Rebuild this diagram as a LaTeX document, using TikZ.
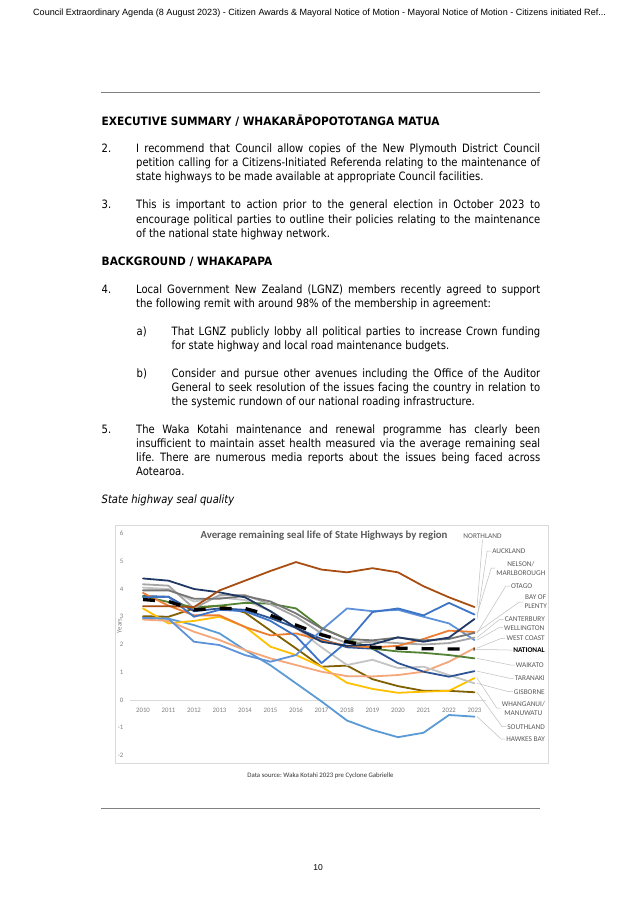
\documentclass[tikz,border=0pt]{standalone}
\usepackage{fontspec}
\setmainfont{DejaVu Sans}[FakeStretch=0.87]
\newfontfamily\headfont{DejaVu Sans}[FakeStretch=0.92]
\newfontfamily\arialfont{Liberation Sans}
\newfontfamily\calfont{Carlito}
\usetikzlibrary{calc}
\frenchspacing
\definecolor{rulegray}{HTML}{808080}
\definecolor{boxgray}{HTML}{D9D9D9}
\definecolor{labgray}{HTML}{595959}
\definecolor{tickgray}{HTML}{7F7F7F}
\definecolor{leadgray}{HTML}{BFBFBF}
\definecolor{cNorth}{RGB}{168,78,18}
\definecolor{cAuck}{HTML}{203864}
\definecolor{cNel}{HTML}{3E74C6}
\definecolor{cOtago}{HTML}{767676}
\definecolor{cBop}{HTML}{ED7D31}
\definecolor{cCant}{HTML}{A5A5A5}
\definecolor{cWell}{HTML}{5E93DA}
\definecolor{cWest}{HTML}{F4A77A}
\definecolor{cWaik}{HTML}{548235}
\definecolor{cTara}{HTML}{2F5597}
\definecolor{cGis}{HTML}{C4C4C4}
\definecolor{cWhang}{HTML}{FFC000}
\definecolor{cSouth}{HTML}{806000}
\definecolor{cHawk}{HTML}{5B9BD5}
\newcommand\jfull[1]{\makebox[404pt][s]{#1}}
\newcommand\jsub[1]{\makebox[368.5pt][s]{#1}}
\tikzset{
  body/.style={anchor=base west, inner sep=0pt, font=\frenchspacing\fontsize{11.5}{14}\selectfont},
  head/.style={anchor=base west, inner sep=0pt, font=\headfont\bfseries\fontsize{11.5}{14}\selectfont},
  ruleline/.style={draw=rulegray, line width=0.8pt},
  series/.style={line width=1.8pt, line join=round, line cap=round},
  natline/.style={line width=3.3pt, black, dash pattern=on 12pt off 14pt},
  rlabel/.style={font=\calfont\fontsize{7.3}{9}\selectfont, text=labgray, inner sep=0pt, align=center},
  leader/.style={draw=leadgray, line width=0.5pt},
  tick/.style={font=\calfont\fontsize{6.8}{8}\selectfont, text=tickgray, inner sep=0pt},
}
\begin{document}
\begin{tikzpicture}[x=1pt,y=-1pt]
\useasboundingbox[fill=white] (0,0) rectangle (637,901);

% page header
\node[anchor=base west, inner sep=0pt, font=\arialfont\fontsize{9.05}{11}\selectfont] (hdr) at (33,16)
  {Council Extraordinary Agenda (8 August 2023) - Citizen Awards \& Mayoral Notice of Motion - Mayoral Notice of Motion - Citizens initiated Ref...};
\draw[ruleline] (101,92.5) -- (540,92.5);

% executive summary
\node[head] (h1) at (101.5,126) {EXECUTIVE SUMMARY / WHAKARĀPOPOTOTANGA MATUA};
\node[body] (n2) at (101.5,153) {2.};
\node[body] (p2a) at (136,153) {\jfull{I recommend that Council allow copies of the New Plymouth District Council}};
\node[body] (p2b) at (136,167) {\jfull{petition calling for a Citizens-Initiated Referenda relating to the maintenance of}};
\node[body] (p2c) at (136,181) {state highways to be made available at appropriate Council facilities.};
\node[body] (n3) at (101.5,209) {3.};
\node[body] (p3a) at (136,209) {\jfull{This is important to action prior to the general election in October 2023 to}};
\node[body] (p3b) at (136,223) {\jfull{encourage political parties to outline their policies relating to the maintenance}};
\node[body] (p3c) at (136,237) {of the national state highway network.};

% background
\node[head] (h2) at (101.5,265) {BACKGROUND / WHAKAPAPA};
\node[body] (n4) at (101.5,293) {4.};
\node[body] (p4a) at (136,293) {\jfull{Local Government New Zealand (LGNZ) members recently agreed to support}};
\node[body] (p4b) at (136,307) {the following remit with around 98\% of the membership in agreement:};
\node[body] (na) at (136.5,335) {a)};
\node[body] (pa1) at (171.5,335) {\jsub{That LGNZ publicly lobby all political parties to increase Crown funding}};
\node[body] (pa2) at (171.5,349) {for state highway and local road maintenance budgets.};
\node[body] (nb) at (136.5,377) {b)};
\node[body] (pb1) at (171.5,377) {\jsub{Consider and pursue other avenues including the Office of the Auditor}};
\node[body] (pb2) at (171.5,391) {\jsub{General to seek resolution of the issues facing the country in relation to}};
\node[body] (pb3) at (171.5,405) {the systemic rundown of our national roading infrastructure.};
\node[body] (n5) at (101.5,433) {5.};
\node[body] (p5a) at (136,433) {\jfull{The Waka Kotahi maintenance and renewal programme has clearly been}};
\node[body] (p5b) at (136,447) {\jfull{insufficient to maintain asset health measured via the average remaining seal}};
\node[body] (p5c) at (136,461) {\jfull{life. There are numerous media reports about the issues being faced across}};
\node[body] (p5d) at (136,475) {Aotearoa.};
\node[body, font=\itshape\fontsize{11.5}{14}\selectfont] (cap) at (101.5,503) {State highway seal quality};

% chart frame
\draw[draw=boxgray, line width=0.6pt] (115,525.5) rectangle (548,763);
\node[font=\calfont\bfseries\fontsize{10.8}{12}\selectfont, text=labgray, inner sep=0pt] (title) at (324,535.5)
  {Average remaining seal life of State Highways by region};
\draw[draw=boxgray, line width=0.6pt] (130,700) -- (486,700);
\node[tick, rotate=90] (ylab) at (119.5,626) {Years};
\foreach \v/\nm in {6/ya,5/yb,4/yc,3/yd,2/ye,1/yf,0/yg,-1/yh,-2/yi}{
  \node[tick, anchor=east] (\nm) at (123.5,{700-27.75*\v}) {\v};
}
\foreach \i in {0,...,13}{
  \pgfmathtruncatemacro\yr{2010+\i}
  \node[tick] (x\i) at ({143+25.5*\i},710) {\yr};
}
\node[font=\calfont\fontsize{6.8}{8}\selectfont, text=black!80, inner sep=0pt] (src) at (320.5,775.5)
  {Data source: Waka Kotahi 2023 pre Cyclone Gabrielle};

\begin{scope}[shift={(143pt,-700pt)}, x=25.5pt, y=27.75pt]
\draw[series, cHawk] plot coordinates {(0,2.96) (1,2.93) (2,2.7) (3,2.4) (4,1.8) (5,1.25) (6,0.6) (7,-0.05) (8,-0.74) (9,-1.08) (10,-1.34) (11,-1.18) (12,-0.54) (13,-0.6)};
\draw[series, cSouth] plot coordinates {(0,3.02) (1,3.0) (2,3.3) (3,3.4) (4,3.15) (5,2.5) (6,1.86) (7,1.2) (8,1.24) (9,0.75) (10,0.5) (11,0.33) (12,0.33) (13,0.28)};
\draw[series, cWhang] plot coordinates {(0,3.3) (1,2.76) (2,2.85) (3,3.0) (4,2.64) (5,1.92) (6,1.62) (7,1.2) (8,0.62) (9,0.4) (10,0.26) (11,0.3) (12,0.33) (13,0.79)};
\draw[series, cWest] plot coordinates {(0,2.9) (1,2.85) (2,2.46) (3,2.16) (4,1.8) (5,1.5) (6,1.26) (7,1.02) (8,0.86) (9,0.85) (10,0.9) (11,1.02) (12,1.38) (13,1.87)};
\draw[series, cGis] plot coordinates {(0,4.05) (1,4.0) (2,3.55) (3,3.7) (4,3.6) (5,3.2) (6,2.6) (7,1.9) (8,1.26) (9,1.45) (10,1.15) (11,1.2) (12,0.9) (13,0.6)};
\draw[series, cTara] plot coordinates {(0,3.75) (1,3.72) (2,3.2) (3,3.3) (4,3.25) (5,2.95) (6,2.6) (7,2.2) (8,1.9) (9,1.85) (10,1.33) (11,1.02) (12,0.84) (13,1.04)};
\draw[series, cWaik] plot coordinates {(0,3.74) (1,3.53) (2,3.34) (3,3.4) (4,3.5) (5,3.47) (6,3.3) (7,2.6) (8,2.2) (9,1.85) (10,1.75) (11,1.7) (12,1.62) (13,1.5)};
\draw[series, cWell] plot coordinates {(0,2.96) (1,2.93) (2,2.1) (3,1.98) (4,1.62) (5,1.38) (6,1.62) (7,2.52) (8,3.3) (9,3.2) (10,3.25) (11,3.0) (12,2.76) (13,2.16)};
\draw[series, cCant] plot coordinates {(0,4.17) (1,4.12) (2,3.3) (3,3.78) (4,3.78) (5,3.45) (6,3.0) (7,2.4) (8,2.05) (9,2.1) (10,2.05) (11,2.0) (12,2.05) (13,2.25)};
\draw[series, cBop] plot coordinates {(0,3.86) (1,3.4) (2,3.05) (3,3.05) (4,2.63) (5,2.33) (6,2.4) (7,2.15) (8,1.95) (9,1.9) (10,1.95) (11,2.2) (12,2.5) (13,2.45)};
\draw[series, cOtago] plot coordinates {(0,3.95) (1,3.95) (2,3.65) (3,3.65) (4,3.75) (5,3.55) (6,3.12) (7,2.58) (8,2.2) (9,2.15) (10,2.25) (11,2.15) (12,2.2) (13,2.42)};
\draw[series, cNel] plot coordinates {(0,3.7) (1,3.72) (2,3.0) (3,3.25) (4,3.2) (5,2.85) (6,2.3) (7,1.33) (8,2.1) (9,3.17) (10,3.3) (11,3.05) (12,3.5) (13,3.08)};
\draw[series, cAuck] plot coordinates {(0,4.38) (1,4.3) (2,4.0) (3,3.88) (4,3.7) (5,3.2) (6,2.6) (7,2.1) (8,1.95) (9,2.0) (10,2.26) (11,2.1) (12,2.25) (13,2.92)};
\draw[series, cNorth] plot coordinates {(0,3.38) (1,3.38) (2,3.35) (3,3.95) (4,4.3) (5,4.65) (6,4.97) (7,4.7) (8,4.6) (9,4.75) (10,4.6) (11,4.1) (12,3.7) (13,3.35)};
\draw[natline] plot coordinates {(0,3.62) (1,3.55) (2,3.25) (3,3.3) (4,3.3) (5,3.05) (6,2.7) (7,2.35) (8,2.1) (9,1.9) (10,1.87) (11,1.85) (12,1.84) (13,1.83)};
\coordinate (eNorth) at (13.1,3.35);
\coordinate (eAuck) at (13.1,2.92);
\coordinate (eNel) at (13.1,3.08);
\coordinate (eOtago) at (13.1,2.42);
\coordinate (eBop) at (13.1,2.45);
\coordinate (eCant) at (13.1,2.25);
\coordinate (eWell) at (13.1,2.16);
\coordinate (eWest) at (13.1,1.87);
\coordinate (eNat) at (13.0,1.83);
\coordinate (eWaik) at (13.1,1.5);
\coordinate (eTara) at (13.1,1.04);
\coordinate (eGis) at (13.1,0.6);
\coordinate (eWhang) at (13.1,0.79);
\coordinate (eSouth) at (13.1,0.28);
\coordinate (eHawk) at (13.1,-0.6);
\end{scope}

% region labels
\node[rlabel] (lNorth) at (482.5,536) {NORTHLAND};
\node[rlabel, anchor=east] (lAuck) at (525.5,551) {AUCKLAND};
\node[rlabel, anchor=east] (lNel) at (545.5,568) {NELSON/\\MARLBOROUGH};
\node[rlabel, anchor=east] (lOtago) at (532.5,586) {OTAGO};
\node[rlabel, anchor=east] (lBop) at (547,602) {BAY OF\\PLENTY};
\node[rlabel, anchor=east] (lCant) at (545,619.3) {CANTERBURY};
\node[rlabel, anchor=east] (lWell) at (544.5,627.7) {WELLINGTON};
\node[rlabel, anchor=east] (lWest) at (545,638.3) {WEST COAST};
\node[rlabel, anchor=east, font=\calfont\bfseries\fontsize{7.3}{9}\selectfont, text=black] (lNat) at (545,650) {NATIONAL};
\node[rlabel, anchor=east] (lWaik) at (544,665) {WAIKATO};
\node[rlabel, anchor=east] (lTara) at (545,678.3) {TARANAKI};
\node[rlabel, anchor=east] (lGis) at (545,691.7) {GISBORNE};
\node[rlabel, anchor=east] (lWhang) at (545,708) {WHANGANUI/\\MANUWATU};
\node[rlabel, anchor=east] (lSouth) at (545,726.7) {SOUTHLAND};
\node[rlabel, anchor=east] (lHawk) at (545,739) {HAWKES BAY};

% leader lines
\draw[leader] (eNorth) -- ($(lNorth.south)+(0,1)$);
\foreach \e/\l in {eAuck/lAuck, eNel/lNel, eOtago/lOtago, eBop/lBop, eCant/lCant, eWell/lWell, eWest/lWest, eNat/lNat, eWaik/lWaik, eTara/lTara, eGis/lGis, eWhang/lWhang, eSouth/lSouth, eHawk/lHawk}{
  \draw[leader] (\e) -- ($(\l.west)+(-5,0)$) -- ($(\l.west)+(-1,0)$);
}

\draw[ruleline] (101,808) -- (540,808);
\node[inner sep=0pt, font=\arialfont\fontsize{8.5}{10}\selectfont] (pg) at (318,868) {10};
\end{tikzpicture}
\end{document}
